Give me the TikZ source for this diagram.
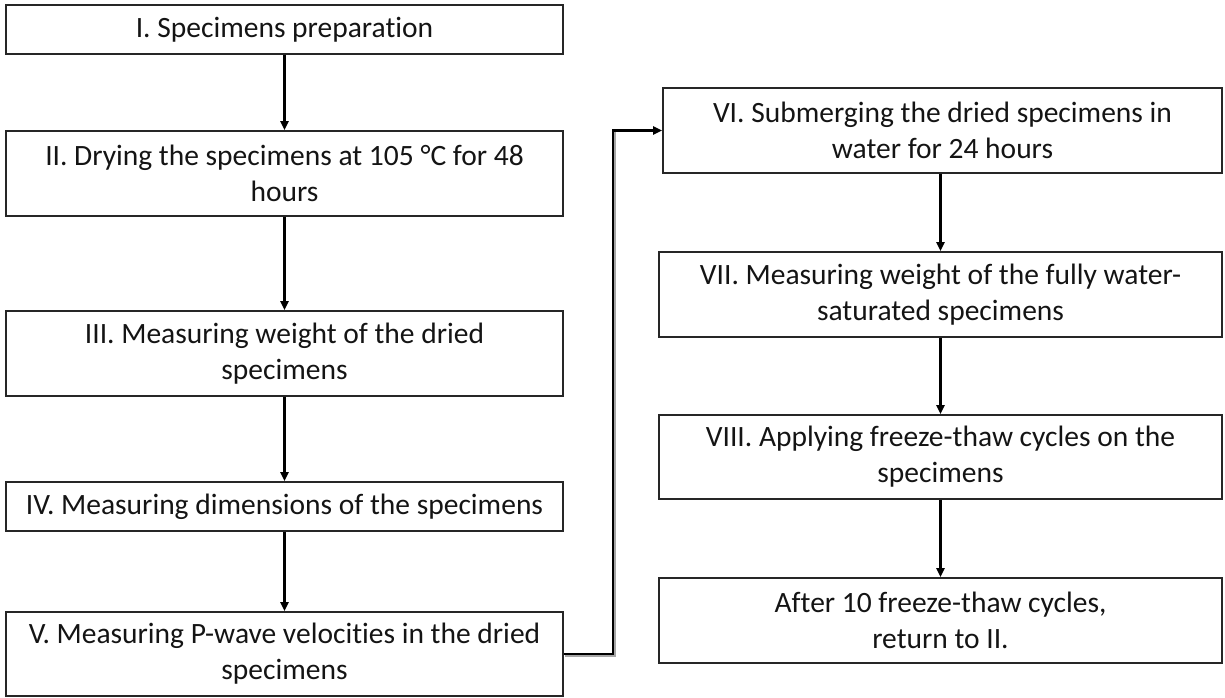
\documentclass[tikz,border=0pt]{standalone}
\usepackage{fontspec}
\setmainfont{Carlito}[Ligatures=NoCommon]
\usetikzlibrary{arrows.meta}
\begin{document}
\begin{tikzpicture}[x=1pt,y=-1pt,
  stepbox/.style={draw=black!85, line width=1.3pt, rectangle, inner sep=0pt,
    align=center, text=black!92, font=\fontsize{29.5}{36}\selectfont},
  flow/.style={line width=2.3pt, -{Triangle[length=9pt,width=8pt]}, shorten >=0.3pt}
]
\useasboundingbox (0,0) rectangle (1225,698);

% left column
\node[stepbox, minimum width=557pt, minimum height=49pt] (s1) at (284.5,29.5)
  {I. Specimens preparation};
\node[stepbox, minimum width=557pt, minimum height=85pt] (s2) at (284.5,173.5)
  {II. Drying the specimens at 105 °C for 48\\hours};
\node[stepbox, minimum width=557pt, minimum height=85pt] (s3) at (284.5,353.5)
  {III. Measuring weight of the dried\\specimens};
\node[stepbox, minimum width=557pt, minimum height=49pt] (s4) at (284.5,506.5)
  {IV. Measuring dimensions of the specimens};
\node[stepbox, minimum width=557pt, minimum height=84pt] (s5) at (284.5,654)
  {V. Measuring P-wave velocities in the dried\\specimens};

% right column
\node[stepbox, minimum width=559pt, minimum height=85pt] (s6) at (942.5,130.5)
  {VI. Submerging the dried specimens in\\water for 24 hours};
\node[stepbox, minimum width=563pt, minimum height=85pt] (s7) at (940.5,294.5)
  {VII. Measuring weight of the fully water-\\saturated specimens};
\node[stepbox, minimum width=563pt, minimum height=84pt] (s8) at (940.5,457)
  {VIII. Applying freeze-thaw cycles on the\\specimens};
\node[stepbox, minimum width=563pt, minimum height=85pt] (s9) at (940.5,620.5)
  {After 10 freeze-thaw cycles,\\return to II.};

% connectors
\draw[flow] (s1) -- (s2);
\draw[flow] (s2) -- (s3);
\draw[flow] (s3) -- (s4);
\draw[flow] (s4) -- (s5);

\coordinate (bend) at (613,654);
\draw[black!35, line width=2.2pt] ([shift={(1.5,1.5)}]s5.east) -- ([shift={(1.5,1.5)}]bend)
  -- ++(0,-523.5);
\draw[flow] (s5.east) -- (bend) |- (s6.west);

\draw[flow] (s7.north |- s6.south) -- (s7.north);
\draw[flow] (s7) -- (s8);
\draw[flow] (s8) -- (s9);
\end{tikzpicture}
\end{document}
